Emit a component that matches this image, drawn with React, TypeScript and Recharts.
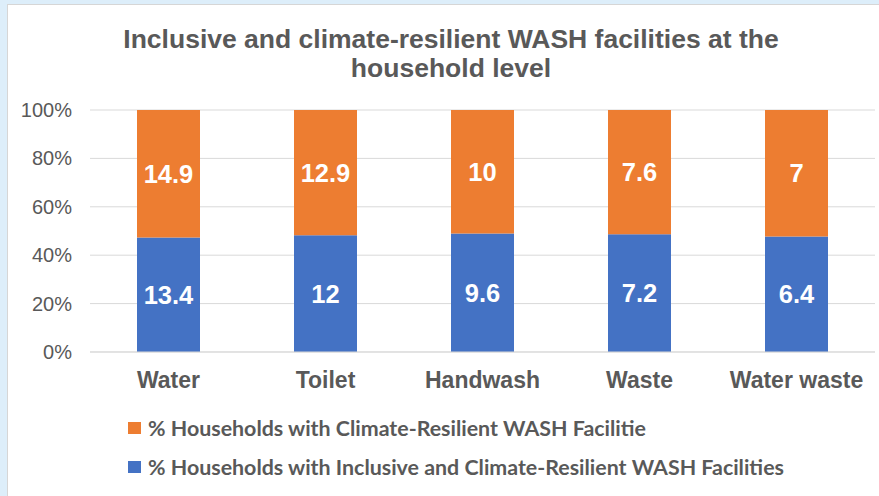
import React from 'react'
import { BarChart, Bar, XAxis, YAxis, CartesianGrid } from 'recharts'

const categories = ['Water', 'Toilet', 'Handwash', 'Waste', 'Water waste']
const inclusive = [13.4, 12, 9.6, 7.2, 6.4]
const resilient = [14.9, 12.9, 10, 7.6, 7]
const yTicks = [0, 0.2, 0.4, 0.6, 0.8, 1]

const BLUE = '#4472c4'
const ORANGE = '#ed7d31'
const GREY = '#595959'
const FONT = "Arial, 'Liberation Sans', sans-serif"

const data = categories.map((name, i) => ({ name, inclusive: inclusive[i], resilient: resilient[i] }))

const makeLabel = (vals: number[]) => (props: any) => {
  const { x, y, width, height, index } = props
  return (
    <text x={x + width / 2} y={y + height / 2 + 9} textAnchor="middle" fill="#fff" fontSize={25.5} fontWeight={700} fontFamily={FONT}>
      {vals[index]}
    </text>
  )
}

const XTick = (props: any) => {
  const { x, y, payload } = props
  return (
    <text x={x} y={y + 28} textAnchor="middle" fill={GREY} fontSize={23} fontWeight={700} fontFamily={FONT}>
      {payload.value}
    </text>
  )
}

const YTick = (props: any) => {
  const { y, payload } = props
  return (
    <text x={72} y={y + 7} textAnchor="end" fill={GREY} fontSize={20} fontFamily={FONT}>
      {`${Math.round(payload.value * 100)}%`}
    </text>
  )
}

function LegendRow({ color, text, top }: { color: string; text: string; top: number }) {
  return (
    <div style={{ position: 'absolute', left: 128, top, display: 'flex', alignItems: 'center', height: 20 }}>
      <div style={{ width: 13, height: 12, background: color, marginRight: 7 }} />
      <span style={{ fontFamily: "Lato, 'Open Sans', sans-serif", fontWeight: 700, fontSize: 21.4, color: GREY, whiteSpace: 'nowrap' }}>{text}</span>
    </div>
  )
}

export default function App() {
  return (
    <div style={{ position: 'fixed', left: 0, top: 0, width: 879, height: 496, background: '#ddeefa', overflow: 'hidden' }}>
      <div style={{ position: 'absolute', left: 7, top: 4, width: 900, height: 520, background: '#fff', border: '1px solid #d6d6d6' }} />
      <div style={{ position: 'absolute', left: 0, top: 25, width: 902, textAlign: 'center', fontFamily: FONT, fontWeight: 700, fontSize: 26.5, lineHeight: '29px', color: GREY }}>
        Inclusive and climate-resilient WASH facilities at the
        <br />
        household level
      </div>
      <div style={{ position: 'absolute', left: 0, top: 0 }}>
        <BarChart width={879} height={496} data={data} stackOffset="expand" margin={{ top: 110, right: 4, left: 8, bottom: 114 }}>
          <CartesianGrid vertical={false} stroke="#d9d9d9" />
          <XAxis dataKey="name" axisLine={{ stroke: '#d9d9d9' }} tickLine={false} tick={<XTick />} interval={0} />
          <YAxis width={82} domain={[0, 1]} ticks={yTicks} axisLine={false} tickLine={false} tick={<YTick />} />
          <Bar dataKey="inclusive" stackId="a" fill={BLUE} barSize={63} isAnimationActive={false} label={makeLabel(inclusive)} />
          <Bar dataKey="resilient" stackId="a" fill={ORANGE} barSize={63} isAnimationActive={false} label={makeLabel(resilient)} />
        </BarChart>
      </div>
      <LegendRow color={ORANGE} text="% Households with Climate-Resilient WASH Facilitie" top={418} />
      <LegendRow color={BLUE} text="% Households with Inclusive and Climate-Resilient WASH Facilities" top={457} />
    </div>
  )
}
